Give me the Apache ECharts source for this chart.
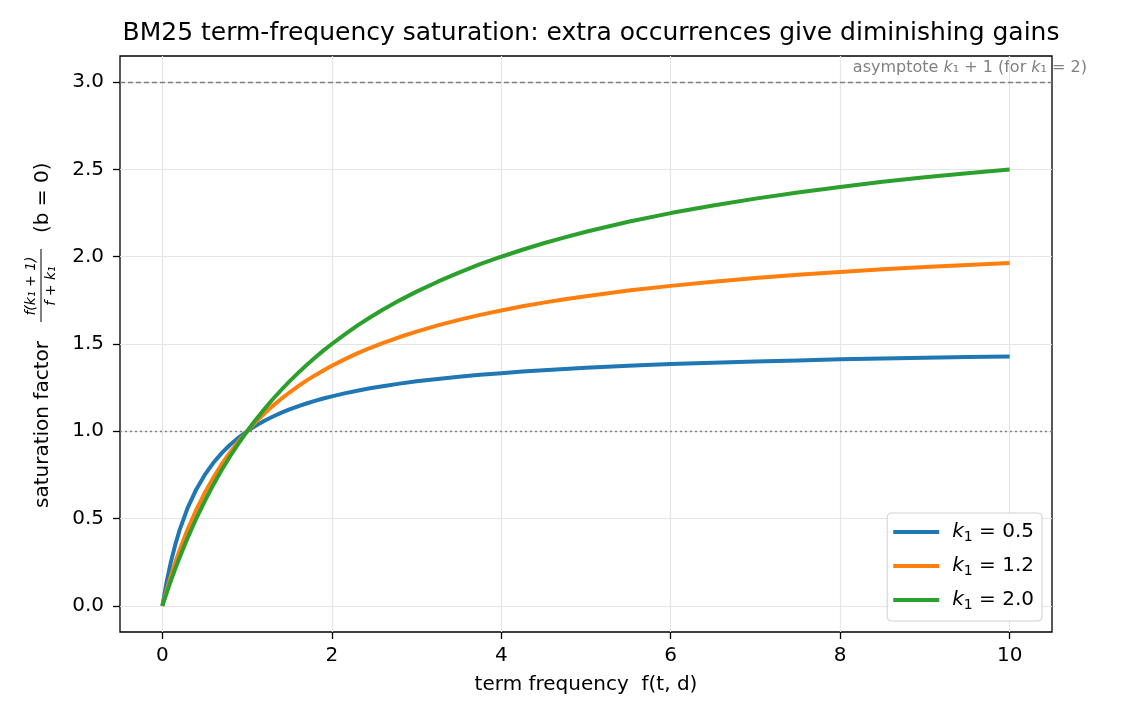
<!DOCTYPE html>
<html>
<head>
<meta charset="utf-8">
<script src="https://cdn.jsdelivr.net/npm/echarts@6/dist/echarts.min.js"></script>
<style>
  html, body { margin: 0; padding: 0; background: #fff; }
  #chartWrap { width: 1125px; height: 720px; }
</style>
</head>
<body>
<div id="chartWrap"></div>
<script>
// term frequency samples (x)
var freqs = [0, 0.05, 0.1, 0.15, 0.2, 0.3, 0.4, 0.5, 0.6, 0.7, 0.8, 0.9, 1.0, 1.1, 1.2, 1.3, 1.4, 1.5, 1.6, 1.7,
             1.8, 1.9, 2.0, 2.15, 2.3, 2.45, 2.6, 2.8, 3.0, 3.25, 3.5, 3.75, 4.0, 4.25, 4.5, 4.75, 5, 5.5, 6,
             6.5, 7, 7.5, 8, 8.5, 9, 9.5, 10];
// saturation factor
var satK05 = [0, 0.136, 0.25, 0.346, 0.429, 0.563, 0.667, 0.75, 0.818, 0.875, 0.923, 0.964, 1.0, 1.031, 1.059,
              1.083, 1.105, 1.125, 1.143, 1.159, 1.174, 1.188, 1.2, 1.217, 1.232, 1.246, 1.258, 1.273, 1.286, 1.3,
              1.313, 1.324, 1.333, 1.342, 1.35, 1.357, 1.364, 1.375, 1.385, 1.393, 1.4, 1.406, 1.412, 1.417,
              1.421, 1.425, 1.429];
var satK12 = [0, 0.088, 0.169, 0.244, 0.314, 0.44, 0.55, 0.647, 0.733, 0.811, 0.88, 0.943, 1.0, 1.052, 1.1,
              1.144, 1.185, 1.222, 1.257, 1.29, 1.32, 1.348, 1.375, 1.412, 1.446, 1.477, 1.505, 1.54, 1.571, 1.607,
              1.638, 1.667, 1.692, 1.716, 1.737, 1.756, 1.774, 1.806, 1.833, 1.857, 1.878, 1.897, 1.913, 1.928,
              1.941, 1.953, 1.964];
var satK20 = [0, 0.073, 0.143, 0.209, 0.273, 0.391, 0.5, 0.6, 0.692, 0.778, 0.857, 0.931, 1.0, 1.065, 1.125,
              1.182, 1.235, 1.286, 1.333, 1.378, 1.421, 1.462, 1.5, 1.554, 1.605, 1.652, 1.696, 1.75, 1.8, 1.857,
              1.909, 1.957, 2.0, 2.04, 2.077, 2.111, 2.143, 2.2, 2.25, 2.294, 2.333, 2.368, 2.4, 2.429,
              2.455, 2.478, 2.5];
var kValues = ['0.5', '1.2', '2.0'];
var xTicks = [0, 2, 4, 6, 8, 10];
var yTicks = [0, 0.5, 1.0, 1.5, 2.0, 2.5, 3.0];
var refLineOne = 1.0;
var asymptote = 3.0;

var colors = ['#1f77b4', '#ff7f0e', '#2ca02c'];
var font = 'DejaVu Sans';

function pairs(ys) {
    var out = [];
    for (var i = 0; i < freqs.length; i++) {
        out.push([freqs[i], ys[i]]);
    }
    return out;
}

var allSeries = [satK05, satK12, satK20];
var series = [];
for (var i = 0; i < allSeries.length; i++) {
    series.push({
        name: 'k1 = ' + kValues[i],
        type: 'line',
        data: pairs(allSeries[i]),
        smooth: false,
        symbol: 'none',
        lineStyle: { color: colors[i], width: 4, join: 'round' },
        itemStyle: { color: colors[i] },
        z: 3 + i
    });
}
// reference lines (dotted at 1.0, dashed asymptote at 3.0)
series[0].markLine = {
    silent: true,
    symbol: 'none',
    label: { show: false },
    animation: false,
    data: [
        { yAxis: refLineOne, lineStyle: { color: '#7f7f7f', type: [2, 3], width: 1.3 } },
        { yAxis: asymptote, lineStyle: { color: '#7f7f7f', type: [5, 3], width: 1.3 } }
    ]
};

var myChart = echarts.init(document.getElementById('chartWrap'));

myChart.setOption({
    animation: false,
    backgroundColor: '#fff',
    textStyle: { fontFamily: font },
    title: {
        text: 'BM25 term-frequency saturation: extra occurrences give diminishing gains',
        left: 586,
        top: 16,
        textAlign: 'center',
        textStyle: { fontFamily: font, fontSize: 25, fontWeight: 'normal', color: '#000' }
    },
    grid: {
        left: 120,
        right: 73,
        top: 56,
        bottom: 88,
        show: true,
        borderColor: '#000',
        borderWidth: 1.3,
        backgroundColor: 'transparent'
    },
    legend: {
        orient: 'vertical',
        right: 83,
        bottom: 99,
        padding: [9, 8, 9, 6],
        icon: 'rect',
        itemWidth: 46,
        itemHeight: 4,
        itemGap: 12,
        backgroundColor: 'rgba(255,255,255,0.85)',
        borderColor: '#d0d0d0',
        borderWidth: 1,
        borderRadius: 4,
        data: series.map(function (s) { return s.name; }),
        formatter: function (name) {
            return '{i|k}{s|1}{t| = ' + name.split('= ')[1] + '}';
        },
        textStyle: {
            fontFamily: font,
            fontSize: 20,
            color: '#000',
            padding: [0, 0, 0, 8],
            rich: {
                i: { fontFamily: font, fontSize: 20, fontStyle: 'italic', color: '#000' },
                s: { fontFamily: font, fontSize: 14, color: '#000', padding: [10, 0, 0, 0] },
                t: { fontFamily: font, fontSize: 20, color: '#000' }
            }
        }
    },
    xAxis: {
        type: 'value',
        min: -0.5,
        max: 10.5,
        splitNumber: 5,
        name: 'term frequency  f(t, d)',
        nameLocation: 'middle',
        nameGap: 43,
        nameTextStyle: { fontFamily: font, fontSize: 20, color: '#000' },
        axisLine: { show: false, onZero: false },
        axisTick: {
            show: true, length: 7, inside: false,
            lineStyle: { color: '#000', width: 1.3 },
            customValues: xTicks
        },
        axisLabel: {
            fontFamily: font, fontSize: 20, color: '#000', margin: 14,
            customValues: xTicks,
            formatter: function (v) { return String(v); }
        },
        splitLine: { show: true, lineStyle: { color: '#e5e5e5', width: 1.2 } }
    },
    yAxis: {
        type: 'value',
        min: -0.15,
        max: 3.15,
        splitNumber: 7,
        axisLine: { show: false, onZero: false },
        axisTick: {
            show: true, length: 7, inside: false,
            lineStyle: { color: '#000', width: 1.3 },
            customValues: yTicks
        },
        axisLabel: {
            fontFamily: font, fontSize: 20, color: '#000', margin: 16,
            customValues: yTicks,
            formatter: function (v) { return v.toFixed(1); }
        },
        splitLine: { show: true, lineStyle: { color: '#e5e5e5', width: 1.2 } }
    },
    graphic: [
        // rotated y-axis label with a small fraction
        {
            type: 'group',
            x: 43,
            y: 508,
            rotation: Math.PI / 2,
            silent: true,
            children: [
                {
                    type: 'text',
                    x: 0, y: 0,
                    style: { text: 'saturation factor', fontFamily: font, fontSize: 20, fill: '#000', align: 'left', verticalAlign: 'middle' }
                },
                {
                    type: 'text',
                    x: 222, y: -12,
                    style: { text: 'f(k\u2081 + 1)', fontFamily: font, fontSize: 14, fontStyle: 'italic', fill: '#000', align: 'center', verticalAlign: 'middle' }
                },
                {
                    type: 'line',
                    shape: { x1: 186, y1: -2, x2: 259, y2: -2 },
                    style: { stroke: '#000', lineWidth: 1 }
                },
                {
                    type: 'text',
                    x: 222, y: 8,
                    style: { text: 'f + k\u2081', fontFamily: font, fontSize: 14, fontStyle: 'italic', fill: '#000', align: 'center', verticalAlign: 'middle' }
                },
                {
                    type: 'text',
                    x: 275, y: 0,
                    style: { text: '(b = 0)', fontFamily: font, fontSize: 20, fill: '#000', align: 'left', verticalAlign: 'middle' }
                }
            ]
        },
        // asymptote annotation
        {
            type: 'text',
            x: 1087,
            y: 68,
            silent: true,
            style: {
                text: 'asymptote {i|k}\u2081 + 1 (for {i|k}\u2081 = 2)',
                fontFamily: font,
                fontSize: 16,
                fill: '#808080',
                align: 'right',
                verticalAlign: 'middle',
                rich: {
                    i: { fontFamily: font, fontSize: 16, fontStyle: 'italic', fill: '#808080' }
                }
            }
        }
    ],
    series: series
});
</script>
</body>
</html>
